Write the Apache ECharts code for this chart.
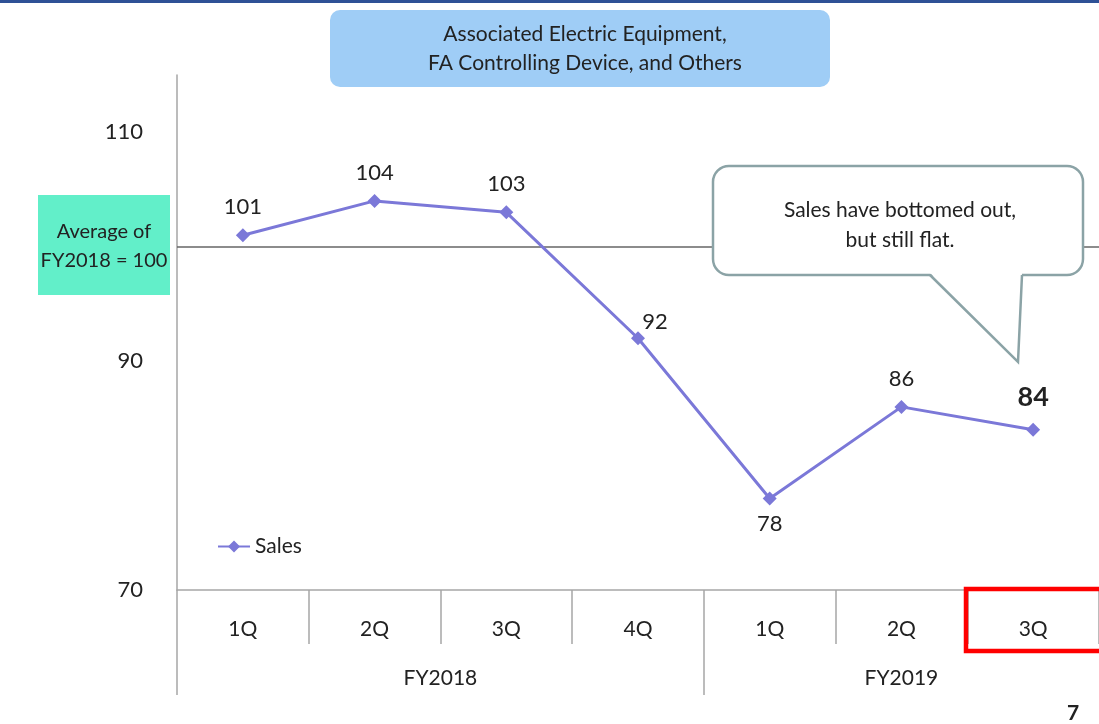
<!DOCTYPE html>
<html><head><meta charset="utf-8">
<script src="https://cdn.jsdelivr.net/npm/echarts@6/dist/echarts.min.js"></script>
<style>html,body{margin:0;padding:0;background:#fff}#c{width:1099px;height:724px}</style>
</head><body><div id="c"></div>
<script>
const quarters = ['1Q','2Q','3Q','4Q','1Q','2Q','3Q'];
const sales = [101, 104, 103, 92, 78, 86, 84];
const fiscalYears = ['FY2018', 'FY2019'];
const fyCenters = [2, 5.5];
const fyBounds = [0, 4];
const yTicksShown = [70, 90, 110];
const baseline = 100;

const FONT = 'Lato, "Open Sans", sans-serif';
const chart = echarts.init(document.getElementById('c'));

const data = sales.map((v, i) => {
  const d = { value: v };
  if (i === 4) d.label = { position: 'bottom', distance: 7 };
  if (i === 3) d.label = { offset: [17, 12] };
  if (i === 6) d.label = { fontWeight: 'bold', fontSize: 27, distance: 12 };
  return d;
});

chart.setOption({
  animation: false,
  textStyle: { fontFamily: FONT },
  grid: { left: 177, right: -2, top: 75, bottom: 134, containLabel: false },
  legend: {
    left: 212, top: 531, itemWidth: 32, itemHeight: 15, itemGap: 4,
    textStyle: { fontSize: 21, color: '#222', fontFamily: FONT },
    data: ['Sales']
  },
  xAxis: [{
    type: 'category', data: quarters, boundaryGap: true,
    axisLine: { lineStyle: { color: '#a6a6a6', width: 1.5 } },
    axisTick: { show: true, interval: 0, length: 54, lineStyle: { color: '#a6a6a6', width: 1.5 } },
    axisLabel: { margin: 29, fontSize: 21, color: '#222', fontFamily: FONT, interval: 0 }
  }, {
    type: 'value', min: 0, max: 7, position: 'bottom', gridIndex: 0,
    axisLine: { show: false }, splitLine: { show: false },
    axisTick: { show: true, customValues: fyBounds, length: 105, lineStyle: { color: '#a6a6a6', width: 1.5 } },
    axisLabel: {
      customValues: fyCenters, margin: 78, fontSize: 21, color: '#222', fontFamily: FONT,
      formatter: v => fiscalYears[fyCenters.indexOf(v)] || ''
    }
  }],
  yAxis: {
    type: 'value', min: 70, max: 115, interval: 10,
    axisLine: { show: true, lineStyle: { color: '#a6a6a6', width: 1.5 } },
    axisTick: { show: false }, splitLine: { show: false },
    axisLabel: {
      margin: 34, fontSize: 22, color: '#222', fontFamily: FONT,
      formatter: v => yTicksShown.includes(v) ? String(v) : ''
    }
  },
  series: [{
    name: 'Sales', type: 'line', data: data, xAxisIndex: 0,
    symbol: 'diamond', symbolSize: 14,
    lineStyle: { color: '#7b78d8', width: 3 },
    itemStyle: { color: '#7b78d8' },
    label: { show: true, position: 'top', distance: 10, fontSize: 22, color: '#222', fontFamily: FONT },
    markLine: {
      silent: true, symbol: 'none', label: { show: false },
      lineStyle: { color: '#666', width: 1.5, type: 'solid' },
      data: [{ yAxis: baseline }]
    },
    z: 5
  }],
  graphic: [
    { type: 'rect', z: 100, shape: { x: 0, y: 0, width: 1099, height: 3 }, style: { fill: '#2e5196' } },
    { type: 'rect', z: 100, shape: { x: 330, y: 10, width: 500, height: 77, r: 10 }, style: { fill: '#9fcdf6' } },
    { type: 'text', z: 101, style: { x: 585, y: 49, text: 'Associated Electric Equipment,\nFA Controlling Device, and Others', align: 'center', verticalAlign: 'middle', fontSize: 21, lineHeight: 29, fill: '#222', fontFamily: FONT } },
    { type: 'rect', z: 100, shape: { x: 38, y: 195, width: 132, height: 100 }, style: { fill: '#62efc9' } },
    { type: 'text', z: 101, style: { x: 104, y: 246, text: 'Average of\nFY2018 = 100', align: 'center', verticalAlign: 'middle', fontSize: 20, lineHeight: 29, fill: '#222', fontFamily: FONT } },
    { type: 'rect', z: 100, shape: { x: 713, y: 166, width: 370, height: 109, r: 16 }, style: { fill: '#fff', stroke: '#8ba3a6', lineWidth: 2.5 } },
    { type: 'polygon', z: 101, shape: { points: [[929, 272], [1018, 361], [1022, 272]] }, style: { fill: '#fff' } },
    { type: 'polyline', z: 102, shape: { points: [[930, 275], [1018, 362], [1022, 275]] }, style: { fill: 'none', stroke: '#8ba3a6', lineWidth: 2.5 } },
    { type: 'text', z: 103, style: { x: 900, y: 225, text: 'Sales have bottomed out,\nbut still flat.', align: 'center', verticalAlign: 'middle', fontSize: 21, lineHeight: 30, fill: '#222', fontFamily: FONT } },
    { type: 'rect', z: 100, shape: { x: 966, y: 589, width: 140, height: 62 }, style: { fill: 'none', stroke: '#f00', lineWidth: 4.5 } },
    { type: 'text', z: 101, style: { x: 1073, y: 713, text: '7', align: 'center', verticalAlign: 'middle', fontSize: 21, fontWeight: 'bold', fill: '#222', fontFamily: FONT } }
  ]
});
</script></body></html>
